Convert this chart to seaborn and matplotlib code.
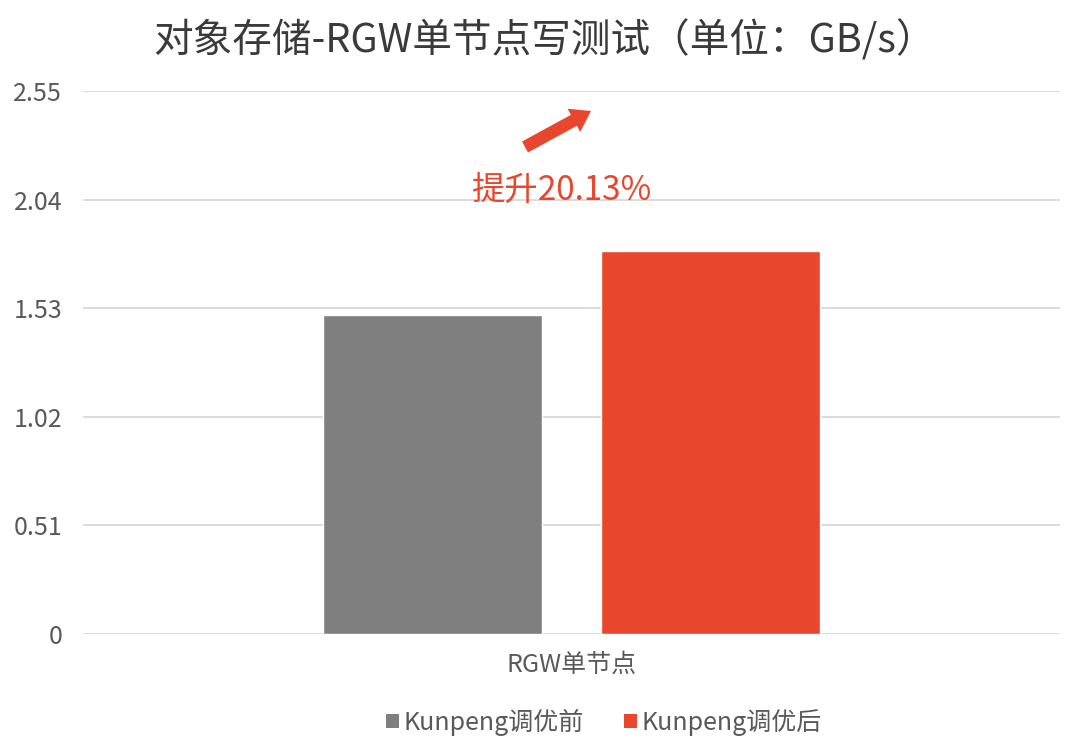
import matplotlib
matplotlib.use("Agg")
import matplotlib.pyplot as plt
import seaborn as sns
import pandas as pd
from matplotlib.patches import Patch

categories = ["RGW单节点"]
series = ["Kunpeng调优前", "Kunpeng调优后"]
values = [1.496, 1.797]
yticks = [0, 0.51, 1.02, 1.53, 2.04, 2.55]
ytick_labels = ["0", "0.51", "1.02", "1.53", "2.04", "2.55"]
title = "对象存储-RGW单节点写测试（单位：GB/s）"
note = "提升20.13%"

GRAY = "#7F7F7F"
RED = "#E8472E"
TXT = "#595959"

sns.set_theme(style="white")
plt.rcParams["font.family"] = ["Noto Sans CJK SC", "DejaVu Sans"]

df = pd.DataFrame({
    "cat": [categories[0]] * len(series),
    "series": series,
    "value": values,
})

W, H = 1080, 755
fig = plt.figure(figsize=(W / 100, H / 100), dpi=100)
ax = fig.add_axes([83 / W, 1 - 634 / H, (1060 - 83) / W, (634 - 91) / H])

sns.barplot(data=df, x="cat", y="value", hue="series", palette=[GRAY, RED],
            width=0.568, gap=0.21, saturation=1, legend=False, ax=ax, zorder=3)

ax.set_xlim(-0.5, 0.5)
ax.set_ylim(0, 2.55)
ax.set_yticks(yticks)
ax.set_yticklabels(ytick_labels)
ax.yaxis.grid(True, color="#D9D9D9", linewidth=1.3, zorder=0)
ax.set_axisbelow(True)
for s in ax.spines.values():
    s.set_visible(False)
ax.tick_params(axis="y", length=0, pad=15, labelsize=18, labelcolor=TXT)
ax.tick_params(axis="x", length=0, pad=13, labelsize=18, labelcolor=TXT)
ax.set_xlabel("")
ax.set_ylabel("")

fig.text(544 / W, 1 - 41 / H, title, ha="center", va="center",
         fontsize=28.5, color="#3A3A3A")

fig.text(561 / W, 1 - 191 / H, note, ha="center", va="center",
         fontsize=24, color=RED)

ax.annotate("", xy=(591, H - 111), xytext=(525, H - 147),
            xycoords="figure pixels", textcoords="figure pixels",
            arrowprops=dict(arrowstyle="simple,head_width=1.9,head_length=1.4,tail_width=0.9",
                            mutation_scale=10, color=RED, shrinkA=0, shrinkB=0, lw=0))

handles = [Patch(facecolor=c, edgecolor="none") for c in [GRAY, RED]]
fig.legend(handles, series, loc="center", bbox_to_anchor=(604 / W, 1 - 722 / H),
           ncol=2, frameon=False, fontsize=18, labelcolor=TXT,
           handlelength=0.5, handleheight=0.5, handletextpad=0.2,
           columnspacing=1.6)

fig.savefig("out.png", dpi=100)
